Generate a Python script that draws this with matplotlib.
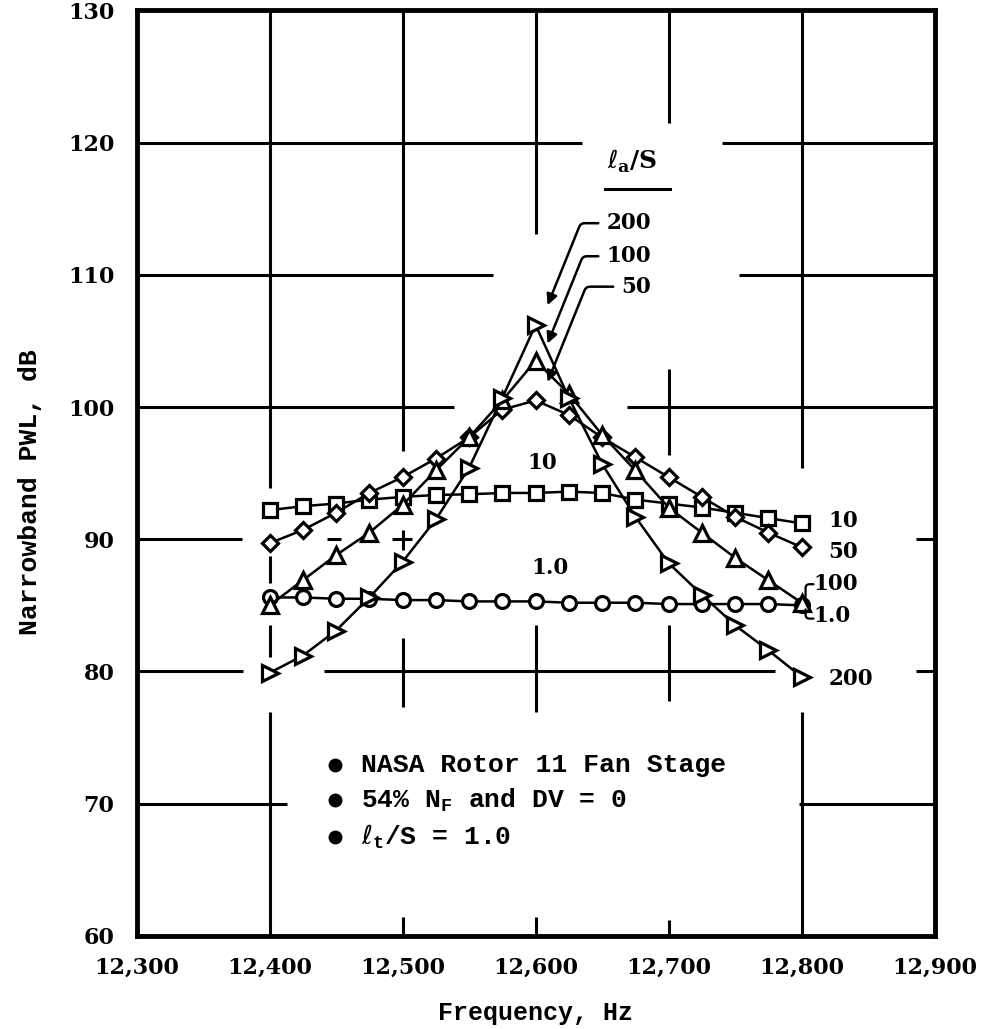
import matplotlib.pyplot as plt

# frequency points, Hz
freq = [12400, 12425, 12450, 12475, 12500, 12525, 12550, 12575, 12600,
        12625, 12650, 12675, 12700, 12725, 12750, 12775, 12800]

# narrowband PWL, dB, for each l_a/S
pwl_1 = [85.6, 85.6, 85.5, 85.5, 85.4, 85.4, 85.3, 85.3, 85.3,
         85.2, 85.2, 85.2, 85.1, 85.1, 85.1, 85.1, 85.0]
pwl_10 = [92.2, 92.5, 92.7, 93.0, 93.2, 93.35, 93.4, 93.5, 93.5,
          93.6, 93.5, 93.0, 92.7, 92.4, 92.0, 91.6, 91.2]
pwl_50 = [89.7, 90.7, 92.0, 93.5, 94.7, 96.1, 97.7, 99.8, 100.5,
          99.4, 97.7, 96.2, 94.7, 93.2, 91.7, 90.5, 89.4]
pwl_100 = [85.0, 86.9, 88.8, 90.5, 92.6, 95.2, 97.7, 100.5, 103.5,
           101.0, 97.9, 95.2, 92.4, 90.5, 88.6, 86.9, 85.2]
pwl_200 = [79.9, 81.2, 83.1, 85.6, 88.3, 91.5, 95.4, 100.7, 106.2,
           100.7, 95.7, 91.7, 88.2, 85.8, 83.5, 81.6, 79.6]

series = [(pwl_1, 'o', 10), (pwl_10, 's', 10), (pwl_50, 'D', 8.5),
          (pwl_100, '^', 11), (pwl_200, '>', 11)]

xticks = [12300, 12400, 12500, 12600, 12700, 12800, 12900]
yticks = [60, 70, 80, 90, 100, 110, 120, 130]

notes = ['NASA Rotor 11 Fan Stage',
         r'54% N$_\mathregular{F}$ and DV = 0',
         r'$\ell_\mathregular{t}$/S = 1.0']

# the old chart grid is interrupted around the curves and notes
vgrid = {12400: [(93.9, 130), (86.7, 88.7), (81.1, 83.5), (60, 76.9)],
         12500: [(96.7, 130), (89.2, 90.7), (77.3, 82.5), (60, 61.4)],
         12600: [(113.1, 130), (76.9, 83.5), (60, 61.4)],
         12700: [(121.5, 130), (96.4, 102.9), (77.8, 83.5), (60, 61.2)],
         12800: [(95.4, 130), (60, 76.9)]}
hgrid = {120: [(12300, 12635), (12740, 12900)],
         110: [(12300, 12568), (12753, 12900)],
         100: [(12300, 12539), (12669, 12900)],
         90: [(12300, 12379), (12443, 12454), (12492, 12507), (12886, 12900)],
         80: [(12300, 12380), (12441, 12780), (12886, 12900)],
         70: [(12300, 12413), (12798, 12900)]}

mono = 'Liberation Mono'
serif = 'DejaVu Serif'

fig = plt.figure(figsize=(9.9, 10.29), dpi=100)
ax = fig.add_axes([0.138, 0.0904, 0.806, 0.8996])
ax.set_xlim(12300, 12900)
ax.set_ylim(60, 130)

for x, segs in vgrid.items():
    for y0, y1 in segs:
        ax.plot([x, x], [y0, y1], color='black', lw=2.2, zorder=1,
                solid_capstyle='butt')
for y, segs in hgrid.items():
    for x0, x1 in segs:
        ax.plot([x0, x1], [y, y], color='black', lw=2.2, zorder=1,
                solid_capstyle='butt')

for vals, mk, ms in series:
    ax.plot(freq, vals, color='black', lw=1.8, marker=mk, ms=ms,
            mfc='white', mec='black', mew=2.3, zorder=3)

for s in ax.spines.values():
    s.set_linewidth(3.5)

ax.set_xticks(xticks)
ax.set_xticklabels([f'{v:,}' for v in xticks])
ax.set_yticks(yticks)
ax.tick_params(axis='x', length=0, pad=15)
ax.tick_params(axis='y', length=0, pad=16)
for lab in ax.get_xticklabels() + ax.get_yticklabels():
    lab.set_fontfamily(serif)
    lab.set_fontweight('bold')
    lab.set_fontsize(16)

ax.set_xlabel('Frequency, Hz', fontfamily=mono, fontweight='bold',
              fontsize=18, labelpad=16)
ax.set_ylabel('Narrowband PWL, dB', fontfamily=mono, fontweight='bold',
              fontsize=19)
ax.yaxis.set_label_coords(-0.118, 0.48)

nkw = dict(fontfamily=serif, fontweight='bold', fontsize=15.5, zorder=5)
tkw = dict(fontfamily=mono, fontweight='bold', fontsize=19, zorder=5)

# l_a/S heading
ax.text(12654, 118.6, r'$\ell_\mathregular{a}$/S', ha='left', va='center',
        fontfamily=serif, fontweight='bold', fontsize=18, zorder=5)
ax.plot([12652, 12701], [116.5, 116.5], color='black', lw=2.2)

# peak labels with arrows
peak_labels = [('200', 113.9, 107.7), ('100', 111.4, 104.8), ('50', 109.1, 101.9)]
for txt, ty, py in peak_labels:
    ax.annotate(txt, xy=(12609, py), xytext=(12687, ty), ha='right', va='center',
                arrowprops=dict(arrowstyle='-|>', color='black', lw=1.8,
                                shrinkA=4, shrinkB=0, mutation_scale=16,
                                relpos=(0, 0.5),
                                connectionstyle='angle,angleA=0,angleB=68,rad=4'),
                **nkw)

# inline labels
ax.text(12605, 95.8, '10', ha='center', va='center', **nkw)
ax.text(12611, 87.8, '1.0', ha='center', va='center', **nkw)

# right-side labels
right = [('10', 12820, 91.4), ('50', 12820, 89.0), ('100', 12809, 86.6),
         ('1.0', 12809, 84.2), ('200', 12820, 79.4)]
for txt, x, y in right:
    ax.text(x, y, txt, ha='left', va='center', **nkw)
ax.annotate('', xy=(12803, 85.6), xytext=(12809, 86.6),
            arrowprops=dict(arrowstyle='-', color='black', lw=1.6, shrinkA=0,
                            shrinkB=0, connectionstyle='angle,angleA=0,angleB=90,rad=4'))
ax.annotate('', xy=(12803, 84.7), xytext=(12809, 84.0),
            arrowprops=dict(arrowstyle='-', color='black', lw=1.6, shrinkA=0,
                            shrinkB=0, connectionstyle='angle,angleA=0,angleB=90,rad=4'))

# notes
note_y = [72.9, 70.3, 67.5]
for n, y in zip(notes, note_y):
    ax.plot(12449, y, 'o', color='black', ms=9, zorder=5)
    ax.text(12469, y, n, ha='left', va='center', **tkw)

fig.savefig('out.png', dpi=100)
